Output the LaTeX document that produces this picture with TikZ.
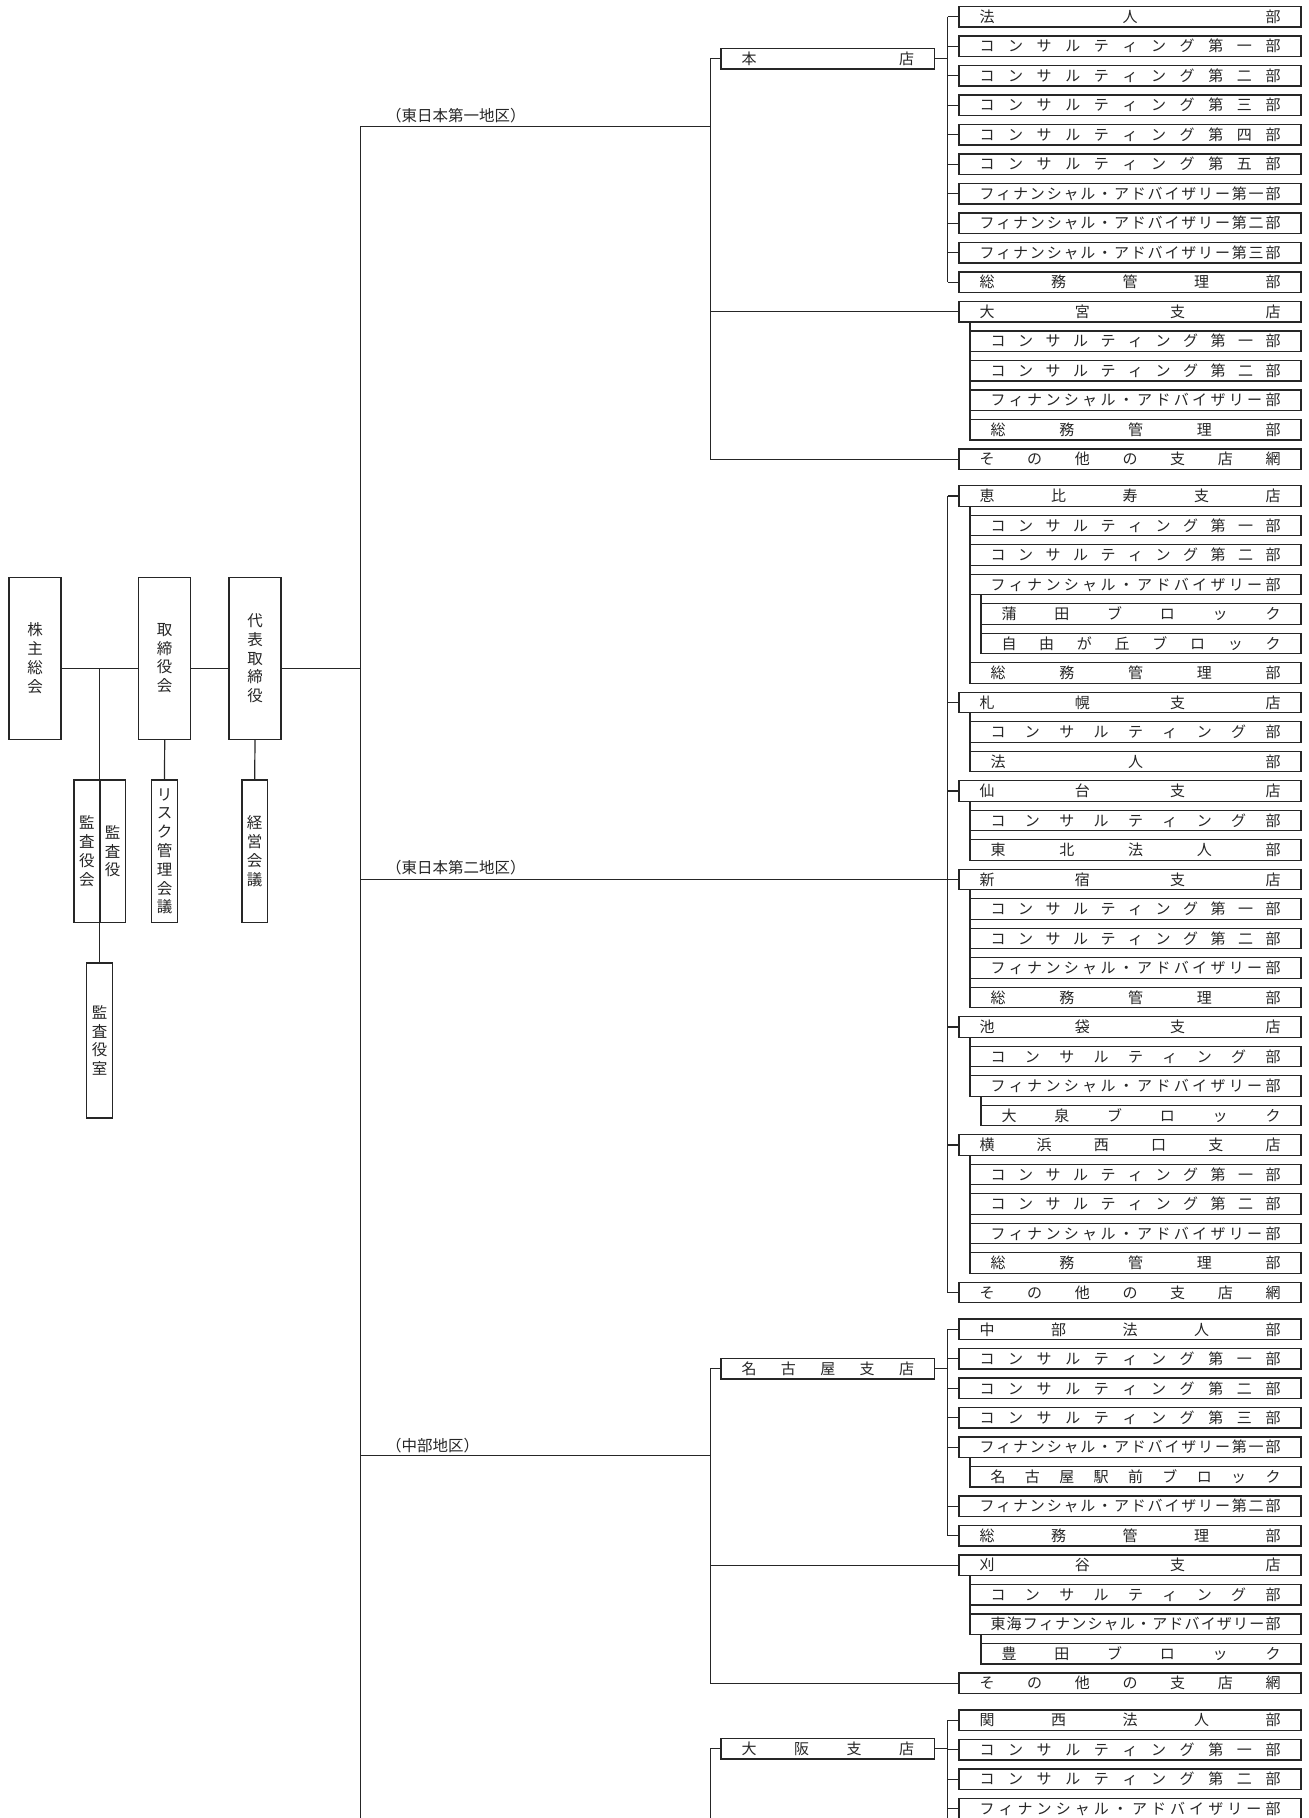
\documentclass[tikz,border=0pt]{standalone}
\usepackage{fontspec}
\setmainfont{Noto Sans CJK JP}

% spread the characters of a label over the whole box
\def\spreadloop#1#2{#1\ifx\relax#2\else\hfill\expandafter\spreadloop\expandafter#2\fi}
\newcommand\kinto[1]{\hbox to\linewidth{\expandafter\spreadloop#1\relax}}

\begin{document}
\begin{tikzpicture}[
    x=1pt, y=-1pt,
    color=black!85, line width=1.2pt,
    box/.style={draw, line width=1.4pt, anchor=west, outer sep=0pt, inner xsep=20.5pt, inner ysep=0pt, minimum height=20.5pt, font=\fontsize{15}{18}\selectfont},
    dept/.style={box, text width=301pt},
    sub/.style={box, text width=290pt, xshift=11pt},
    subsub/.style={box, text width=279pt, xshift=22pt},
    shop/.style={box, text width=172.5pt},
    organ/.style={draw, line width=1.4pt, outer sep=0pt, inner sep=0pt, align=center, font=\fontsize{15.5}{18.8}\selectfont},
    board/.style={organ, minimum width=52pt, minimum height=162pt},
    panel/.style={organ, minimum width=25.7pt, minimum height=142.5pt},
    area/.style={anchor=west, inner sep=0pt, font=\fontsize{15.5}{18}\selectfont},
    declare function={ry(\n,\g)=16.7+(\n-1)*29.5+\g*7.3;},
]
    \useasboundingbox (0,0) rectangle (1309,1818);

    % Top management
    \node[board] (kabu) at (35,658.2) {株\\主\\総\\会};
    \node[board] (tori) at (164.7,658.2) {取\\締\\役\\会};
    \node[board] (daihyo) at (255,658.2) {代\\表\\取\\締\\役};
    \node[panel] (kansakai) at (86.85,851.2) {監\\査\\役\\会};
    \node[panel] (kansa) at (112.7,851.2) {監\\査\\役};
    \node[panel] (risk) at (164.5,851.2) {リ\\ス\\ク\\管\\理\\会\\議};
    \node[panel] (keiei) at (254.7,851.2) {経\\営\\会\\議};
    \node[panel, minimum height=155pt] (shitsu) at (99.5,1040.5) {監\\査\\役\\室};

    \coordinate (lv) at (0,668.4);
    \coordinate (trunk) at (360.7,126.4);
    \coordinate (foot) at (360.7,1830);
    \coordinate (rx) at (710.5,0);
    \coordinate (bx) at (947.5,0);

    \draw (kabu.east |- lv) -- (tori.west |- lv);
    \draw (tori.east |- lv) -- (daihyo.west |- lv);
    \draw (daihyo.east |- lv) -- (trunk |- lv);
    \draw (shitsu.north |- lv) -- (shitsu.north);
    \draw (tori.south) -- (risk.north);
    \draw (daihyo.south) -- (keiei.north);
    \draw (trunk) -- (foot);

    % Area labels
    \node[area] (east1) at (385.5,116) {（東日本第一地区）};
    \node[area] (east2) at (385.5,867.6) {（東日本第二地区）};
    \node[area] (chubu) at (385.5,1445.5) {（中部地区）};

    % East Japan 1
    \node[shop] (honten) at (721,58.6) {\kinto{本店}};
    \foreach \n/\kind/\t in {1/dept/法人部, 2/dept/コンサルティング第一部, 3/dept/コンサルティング第二部,
        4/dept/コンサルティング第三部, 5/dept/コンサルティング第四部, 6/dept/コンサルティング第五部,
        7/dept/フィナンシャル・アドバイザリー第一部, 8/dept/フィナンシャル・アドバイザリー第二部,
        9/dept/フィナンシャル・アドバイザリー第三部, 10/dept/総務管理部, 11/dept/大宮支店,
        12/sub/コンサルティング第一部, 13/sub/コンサルティング第二部, 14/sub/フィナンシャル・アドバイザリー部,
        15/sub/総務管理部, 16/dept/その他の支店網}
        \node[\kind] (r\n) at (959,{ry(\n,0)}) {\kinto{\t}};

    \draw (trunk) -- (rx |- trunk);
    \draw (honten.west) -- (rx |- honten) -- (rx |- r16) -- (r16.west);
    \draw (rx |- r11) -- (r11.west);
    \draw (honten.east) -- (bx |- honten);
    \draw (bx |- r1) -- (bx |- r10);
    \foreach \i in {1,...,10} \draw (bx |- r\i) -- (r\i.west);
    \draw (r12.west |- r11.south) -- (r15.west);

    % East Japan 2
    \foreach \n/\kind/\t in {17/dept/恵比寿支店, 18/sub/コンサルティング第一部, 19/sub/コンサルティング第二部,
        20/sub/フィナンシャル・アドバイザリー部, 21/subsub/蒲田ブロック, 22/subsub/自由が丘ブロック,
        23/sub/総務管理部, 24/dept/札幌支店, 25/sub/コンサルティング部, 26/sub/法人部,
        27/dept/仙台支店, 28/sub/コンサルティング部, 29/sub/東北法人部,
        30/dept/新宿支店, 31/sub/コンサルティング第一部, 32/sub/コンサルティング第二部,
        33/sub/フィナンシャル・アドバイザリー部, 34/sub/総務管理部,
        35/dept/池袋支店, 36/sub/コンサルティング部, 37/sub/フィナンシャル・アドバイザリー部, 38/subsub/大泉ブロック,
        39/dept/横浜西口支店, 40/sub/コンサルティング第一部, 41/sub/コンサルティング第二部,
        42/sub/フィナンシャル・アドバイザリー部, 43/sub/総務管理部, 44/dept/その他の支店網}
        \node[\kind] (r\n) at (959,{ry(\n,1)}) {\kinto{\t}};

    \draw (trunk |- r30) -- (r30.west);
    \draw (bx |- r17) -- (bx |- r44);
    \foreach \i in {17,24,27,35,39,44} \draw (bx |- r\i) -- (r\i.west);
    \draw (r18.west |- r17.south) -- (r23.west);
    \draw (r21.west |- r20.south) -- (r22.west);
    \draw (r25.west |- r24.south) -- (r26.west);
    \draw (r28.west |- r27.south) -- (r29.west);
    \draw (r31.west |- r30.south) -- (r34.west);
    \draw (r36.west |- r35.south) -- (r37.west);
    \draw (r38.west |- r37.south) -- (r38.west);
    \draw (r40.west |- r39.south) -- (r43.west);

    % Chubu
    \node[shop] (nagoya) at (721,1368.8) {\kinto{名古屋支店}};
    \foreach \n/\kind/\t in {45/dept/中部法人部, 46/dept/コンサルティング第一部, 47/dept/コンサルティング第二部,
        48/dept/コンサルティング第三部, 49/dept/フィナンシャル・アドバイザリー第一部, 50/sub/名古屋駅前ブロック,
        51/dept/フィナンシャル・アドバイザリー第二部, 52/dept/総務管理部, 53/dept/刈谷支店,
        54/sub/コンサルティング部, 55/sub/東海フィナンシャル・アドバイザリー部, 56/subsub/豊田ブロック,
        57/dept/その他の支店網}
        \node[\kind] (r\n) at (959,{ry(\n,2)}) {\kinto{\t}};

    \coordinate (g3) at (360.7,1455.7);
    \draw (g3) -- (rx |- g3);
    \draw (nagoya.west) -- (rx |- nagoya) -- (rx |- r57) -- (r57.west);
    \draw (rx |- r53) -- (r53.west);
    \draw (nagoya.east) -- (bx |- nagoya);
    \draw (bx |- r45) -- (bx |- r52);
    \foreach \i in {45,...,49,51,52} \draw (bx |- r\i) -- (r\i.west);
    \draw (r50.west |- r49.south) -- (r50.west);
    \draw (r54.west |- r53.south) -- (r55.west);
    \draw (r56.west |- r55.south) -- (r56.west);

    % Kansai
    \node[shop] (osaka) at (721,1748.8) {\kinto{大阪支店}};
    \foreach \n/\kind/\t in {58/dept/関西法人部, 59/dept/コンサルティング第一部, 60/dept/コンサルティング第二部,
        61/dept/フィナンシャル・アドバイザリー部}
        \node[\kind] (r\n) at (959,{ry(\n,3)}) {\kinto{\t}};

    \draw (osaka.west) -- (rx |- osaka) -- (rx |- foot);
    \draw (osaka.east) -- (bx |- osaka);
    \draw (bx |- r58) -- (bx |- foot);
    \foreach \i in {58,...,61} \draw (bx |- r\i) -- (r\i.west);
\end{tikzpicture}
\end{document}
